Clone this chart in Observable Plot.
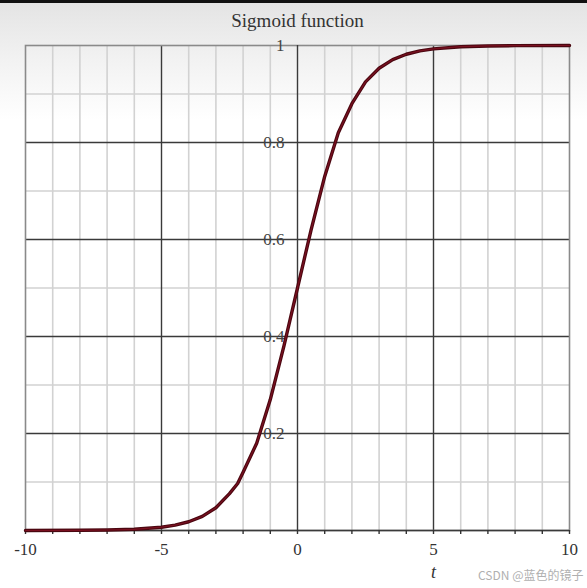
<!DOCTYPE html>
<html>
<head>
<meta charset="utf-8">
<script src="https://cdn.jsdelivr.net/npm/d3@7"></script>
<script src="https://cdn.jsdelivr.net/npm/@observablehq/plot@0.6"></script>
<style>
  html, body { margin: 0; padding: 0; }
  body {
    width: 587px; height: 588px; overflow: hidden;
    background: linear-gradient(#111 0px, #111 3px, #e4e4e4 3px, #f2f2f2 60px, #ffffff 120px);
  }
  svg { background: transparent !important; }
</style>
</head>
<body>
<div id="chart"></div>
<script>
// Curve samples
const tValues   = [-10, -8, -7, -6, -5, -4.5, -4, -3.5, -3, -2.5, -2.2, -2, -1.5, -1, -0.5, 0, 0.5, 1, 1.5, 2, 2.5, 3, 3.5, 4, 4.5, 5, 6, 7, 8, 10];
const sigValues = [0.0000, 0.0004, 0.0010, 0.0025, 0.0068, 0.011, 0.018, 0.029, 0.047, 0.076, 0.097, 0.12, 0.18, 0.27, 0.38, 0.50, 0.62, 0.73, 0.82, 0.88, 0.925, 0.953, 0.971, 0.982, 0.989, 0.993, 0.9975, 0.9991, 0.9997, 1.0000];

const title = "Sigmoid function";
const xAxisLabel = "t";
const watermark = "CSDN @蓝色的镜子";

const xTickLabels = ["-10", "-5", "0", "5", "10"];
const xTickValues = [-10, -5, 0, 5, 10];
const yTickLabels = ["0.2", "0.4", "0.6", "0.8", "1"];
const yTickValues = [0.2, 0.4, 0.6, 0.8, 1];

const xMinorGrid = [-9, -8, -7, -6, -4, -3, -2, -1, 1, 2, 3, 4, 6, 7, 8, 9];
const xMajorGrid = [-5, 5];
const yMinorGrid = [0.1, 0.3, 0.5, 0.7, 0.9];
const yMajorGrid = [0.2, 0.4, 0.6, 0.8];
const xSmallTicks = [-10, -9, -8, -7, -6, -5, -4, -3, -2, -1, 0, 1, 2, 3, 4, 5, 6, 7, 8, 9, 10];

const curve = tValues.map((t, i) => ({t, s: sigValues[i]}));
const xTicks = xTickValues.map((v, i) => ({v, label: xTickLabels[i]}));
const yTicks = yTickValues.map((v, i) => ({v, label: yTickLabels[i]}));

const serif = "'Liberation Serif', 'DejaVu Serif', serif";

const chart = Plot.plot({
  width: 587,
  height: 588,
  marginLeft: 25,
  marginRight: 18,
  marginTop: 45,
  marginBottom: 58,
  x: {type: "linear", domain: [-10, 10], axis: null},
  y: {type: "linear", domain: [0, 1], axis: null},
  style: {background: "transparent", fontFamily: serif},
  marks: [
    Plot.ruleX(xMinorGrid, {stroke: "#d2d2d2", strokeWidth: 1.6}),
    Plot.ruleY(yMinorGrid, {stroke: "#d2d2d2", strokeWidth: 1.6}),
    Plot.ruleX(xMajorGrid, {stroke: "#3a3a3a", strokeWidth: 1.4}),
    Plot.ruleY(yMajorGrid, {stroke: "#3a3a3a", strokeWidth: 1.4}),
    Plot.frame({stroke: "#8a8a8a", strokeWidth: 1.6}),
    Plot.ruleX([0], {stroke: "#3a3a3a", strokeWidth: 1.4}),
    Plot.ruleY([0], {stroke: "#3a3a3a", strokeWidth: 1.6}),
    Plot.axisX(xSmallTicks, {tickSize: 4, tickFormat: () => "", stroke: "#333", strokeWidth: 1.4, anchor: "bottom"}),
    Plot.text(yTicks, {x: 0, y: "v", text: "label", dx: -13, textAnchor: "end", fontSize: 17, fill: "#444", fontFamily: serif}),
    Plot.text(xTicks, {x: "v", y: 0, text: "label", dy: 19, fontSize: 17, fill: "#333", fontFamily: serif}),
    Plot.line(curve, {x: "t", y: "s", stroke: "#4a0710", strokeWidth: 3.4, strokeLinejoin: "round", strokeLinecap: "round"}),
    Plot.line(curve, {x: "t", y: "s", stroke: "#7a1020", strokeWidth: 1.2, strokeLinejoin: "round"}),
    Plot.text([title], {x: 0, y: 1, dy: -25, fontSize: 19, letterSpacing: "0.5px", fill: "#333", fontFamily: serif}),
    Plot.text([xAxisLabel], {x: 5, y: 0, dy: 42, fontSize: 18, fontStyle: "italic", fill: "#333", fontFamily: serif}),
    Plot.text([watermark], {frameAnchor: "bottom-right", dx: 14, dy: 49, fontSize: 12, fill: "#b0b0b0", fontFamily: "'Noto Sans CJK SC', 'Noto Sans', sans-serif", textAnchor: "end"})
  ]
});
document.getElementById("chart").appendChild(chart);
</script>
</body>
</html>
